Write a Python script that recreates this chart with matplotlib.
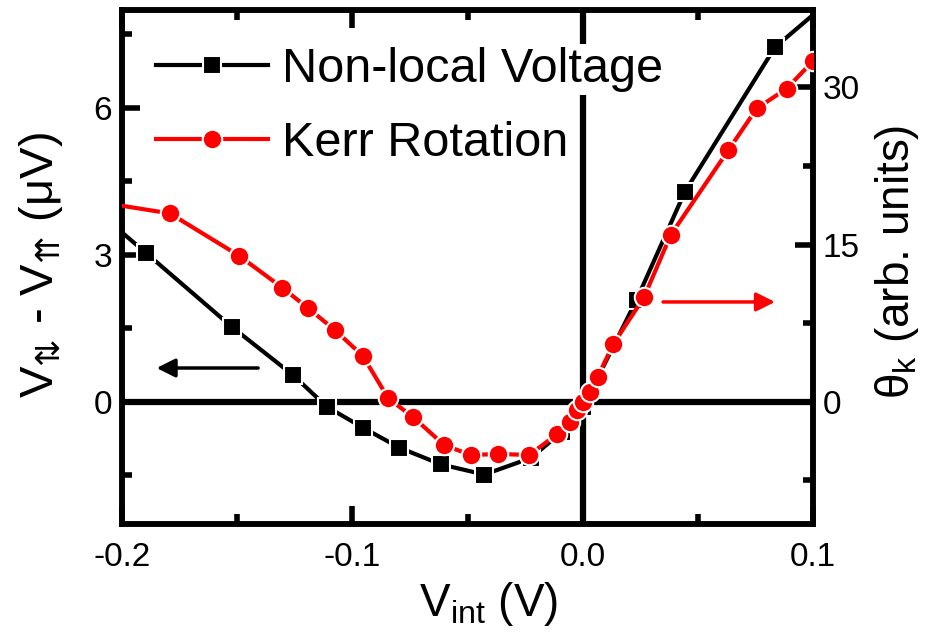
import numpy as np
import matplotlib.pyplot as plt
from matplotlib.ticker import MultipleLocator

plt.rcParams['font.family'] = ['Liberation Sans', 'DejaVu Sans']
plt.rcParams['mathtext.fontset'] = 'custom'
plt.rcParams['mathtext.rm'] = 'Liberation Sans'
plt.rcParams['mathtext.sf'] = 'DejaVu Sans'

# Non-local voltage (left axis, uV)
v_nl = [-0.226, -0.1894, -0.1524, -0.1257, -0.1112, -0.0955, -0.0796, -0.0617,
        -0.0427, -0.0224, -0.0091, 0.0003, 0.0234, 0.0444, 0.0835, 0.12]
nl = [4.5, 3.03, 1.53, 0.54, -0.10, -0.53, -0.94, -1.28,
      -1.49, -1.15, -0.62, -0.10, 2.08, 4.29, 7.24, 8.7]

# Kerr rotation (right axis, arb. units)
v_kerr = [-0.22, -0.1792, -0.1492, -0.1304, -0.1191, -0.1076, -0.0955, -0.0844,
          -0.0735, -0.0602, -0.0486, -0.0366, -0.0232, -0.0113, -0.0054, -0.0026,
          0.0, 0.0032, 0.0065, 0.0133, 0.0266, 0.0382, 0.0632, 0.0756, 0.0886, 0.1001]
kerr = [19.4, 17.97, 13.93, 10.87, 8.90, 6.83, 4.37, 0.30,
        -1.51, -4.15, -5.11, -5.01, -5.11, -3.15, -1.93, -0.81,
        0.0, 0.94, 2.35, 5.5, 9.95, 15.9, 24.0, 28.0, 29.9, 32.55]

fig = plt.figure(figsize=(9.4, 6.34), dpi=100)
ax = fig.add_axes([0.1298, 0.1735, 0.7351, 0.8107])
ax2 = ax.twinx()

ax.axhline(0, color='black', lw=4.5, zorder=1)
ax.axvline(0, color='black', lw=4.5, zorder=1)

l1, = ax.plot(v_nl, nl, color='black', lw=3, marker='s', ms=13,
              mec='white', mew=1.5, zorder=3)
l2, = ax2.plot(v_kerr, kerr, color='red', lw=3, marker='o', ms=14,
               mec='white', mew=1.5, zorder=3)

ax.set_xlim(-0.2, 0.1)
ax.set_ylim(-2.5, 8.0)
ax2.set_ylim(-11.7, 37.4)

ax.xaxis.set_major_locator(MultipleLocator(0.1))
ax.xaxis.set_minor_locator(MultipleLocator(0.05))
ax.yaxis.set_major_locator(MultipleLocator(3))
ax.yaxis.set_minor_locator(MultipleLocator(1.5))
ax2.yaxis.set_major_locator(MultipleLocator(15))
ax2.yaxis.set_minor_locator(MultipleLocator(7.5))
ax.xaxis.set_major_formatter(plt.FuncFormatter(lambda v, p: '0.0' if abs(v) < 1e-9 else f'{v:.1f}'))

for a in (ax, ax2):
    for s in a.spines.values():
        s.set_linewidth(4)
ax.tick_params(axis='x', which='both', direction='in', top=True, labelsize=24, pad=13)
ax.tick_params(axis='y', which='both', direction='in', right=False, labelsize=24, pad=7)
ax.tick_params(which='major', length=13, width=4)
ax.tick_params(which='minor', length=7, width=4)
ax2.tick_params(axis='y', which='both', direction='in', labelsize=24, pad=7)
ax2.tick_params(which='major', length=13, width=4)
ax2.tick_params(which='minor', length=7, width=4)

ax.set_xlabel('V$_\\mathregular{int}$ (V)', fontsize=33)
ax.xaxis.set_label_coords(0.531, -0.108)
ax.set_ylabel('V$_\\mathsf{⇅}$ - V$_\\mathsf{⇈}$ (μV)', fontsize=34)
ax.yaxis.set_label_coords(-0.082, 0.505)
ax2.set_ylabel('θ$_\\mathregular{k}$ (arb. units)', fontsize=33)
ax2.yaxis.set_label_coords(1.087, 0.51)

leg = ax2.legend([l1, l2], ['Non-local Voltage', 'Kerr Rotation'], loc='upper left',
                 frameon=False, fontsize=35, numpoints=1, handlelength=2.3,
                 handletextpad=0.3, labelspacing=0.6, borderaxespad=0.3,
                 bbox_to_anchor=(0.0, 0.995))
leg.get_texts()[0].set_bbox(dict(facecolor='white', edgecolor='none', pad=2))

ax.annotate('', xy=(0.05, 0.3035), xytext=(0.197, 0.3035), xycoords='axes fraction',
            arrowprops=dict(arrowstyle='-|>', color='black', lw=2.5, mutation_scale=28,
                            shrinkA=0, shrinkB=0))
ax2.annotate('', xy=(0.945, 0.432), xytext=(0.783, 0.432), xycoords='axes fraction',
             arrowprops=dict(arrowstyle='-|>', color='red', lw=2.5, mutation_scale=28,
                             shrinkA=0, shrinkB=0))

fig.savefig('out.png', dpi=100)
